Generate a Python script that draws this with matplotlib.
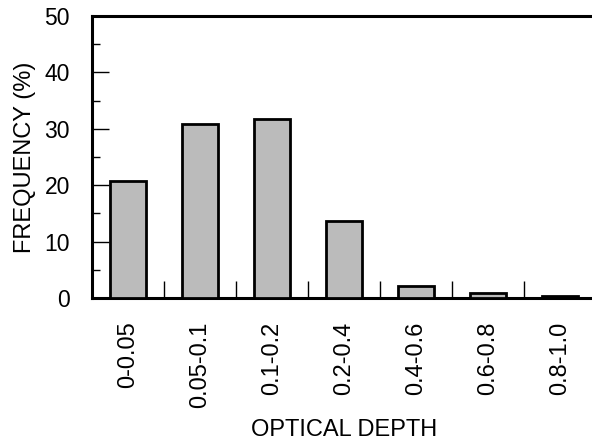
import matplotlib.pyplot as plt
import numpy as np

categories = ["0-0.05", "0.05-0.1", "0.1-0.2", "0.2-0.4", "0.4-0.6", "0.6-0.8", "0.8-1.0"]
frequency = [20.8, 30.8, 31.8, 13.6, 2.2, 0.9, 0.4]

plt.rcParams["font.family"] = ["Liberation Sans", "DejaVu Sans"]

fig = plt.figure(figsize=(5.92, 4.45), dpi=100)
W, H = 592, 445
ax = fig.add_axes([92 / W, 1 - 298 / H, (596 - 92) / W, (298 - 16) / H])

x = np.arange(len(categories))
ax.bar(x, frequency, width=0.5, color="#bbbbbb", edgecolor="black", linewidth=2, zorder=3)

ax.set_xlim(-0.5, 6.5)
ax.set_ylim(0, 50)

ax.set_xticks(x)
ax.set_xticklabels(categories, rotation=90, fontsize=17)
ax.set_xticks(x[:-1] + 0.5, minor=True)
ax.tick_params(axis="x", which="major", length=0, pad=17)
ax.tick_params(axis="x", which="minor", direction="in", length=12, width=1)

ax.set_yticks([0, 10, 20, 30, 40, 50])
ax.set_yticks([5, 15, 25, 35, 45], minor=True)
ax.tick_params(axis="y", which="major", direction="in", length=12, width=1, labelsize=16.5, pad=16)
ax.tick_params(axis="y", which="minor", direction="in", length=6, width=1)

for side in ["left", "top", "bottom"]:
    ax.spines[side].set_linewidth(2.2)
ax.spines["right"].set_visible(False)

ax.set_xlabel("OPTICAL DEPTH", fontsize=17, labelpad=8)
ax.set_ylabel("FREQUENCY (%)", fontsize=17, labelpad=6)

fig.savefig("out.png", dpi=100)
